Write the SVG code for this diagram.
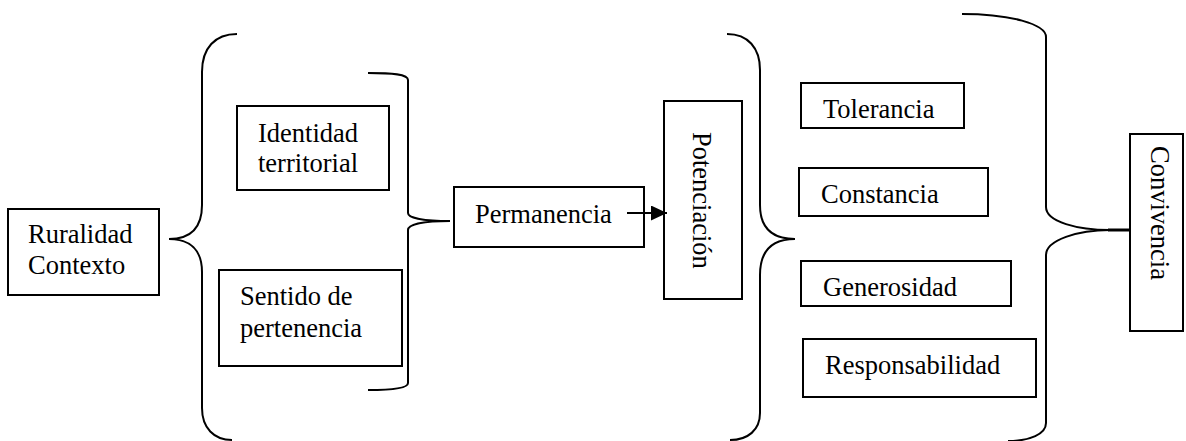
<svg xmlns="http://www.w3.org/2000/svg" width="1186" height="441" viewBox="0 0 1186 441">
<style>
.box{fill:#fff;stroke:#000;stroke-width:2}
.br{fill:none;stroke:#000;stroke-width:2}
text{font-family:"Liberation Serif","Times New Roman",serif;font-size:26.5px;fill:#000}
</style>
<defs>
<marker id="ah" markerWidth="16" markerHeight="15" refX="16" refY="7.5" orient="auto" markerUnits="userSpaceOnUse">
<path d="M0,0 L16,7.5 L0,15 Z" fill="#000"/>
</marker>
</defs>
<rect width="1186" height="441" fill="#fff"/>
<g id="ruralidad">
<rect class="box" x="8" y="209" width="151" height="86"/>
<text x="28" y="243">Ruralidad</text>
<text x="28" y="274">Contexto</text>
</g>
<g id="identidad">
<rect class="box" x="237" y="106" width="152" height="84"/>
<text x="258" y="142">Identidad</text>
<text x="258" y="172">territorial</text>
</g>
<g id="sentido">
<rect class="box" x="219" y="270" width="183" height="96"/>
<text x="240" y="305">Sentido de</text>
<text x="240" y="337">pertenencia</text>
</g>
<g id="permanencia">
<rect class="box" x="454" y="187" width="190" height="60"/>
<text x="475" y="223">Permanencia</text>
</g>
<g id="potenciacion">
<rect class="box" x="664" y="101" width="78" height="198"/>
<text x="693" y="132" transform="rotate(90 693 132)">Potenciación</text>
</g>
<g id="tolerancia">
<rect class="box" x="801" y="83" width="163" height="45"/>
<text x="823" y="118">Tolerancia</text>
</g>
<g id="constancia">
<rect class="box" x="799" y="168" width="189" height="48"/>
<text x="821" y="203">Constancia</text>
</g>
<g id="generosidad">
<rect class="box" x="801" y="261" width="210" height="45"/>
<text x="823" y="296">Generosidad</text>
</g>
<g id="responsabilidad">
<rect class="box" x="803" y="339" width="233" height="58"/>
<text x="825" y="374">Responsabilidad</text>
</g>
<g id="convivencia">
<rect class="box" x="1130" y="134" width="53" height="197"/>
<text x="1151" y="146" transform="rotate(90 1151 146)">Convivencia</text>
</g>
<g id="connectors">
<path class="br" d="M237,34 C215,34 202,48 202,72 L202,205 C202,228 190,239 169,239 C190,239 202,250 202,272 L202,408 C202,428 214,440 232,440"/>
<path class="br" d="M368,73 C392,73 408,74 408,80 L408,213 C408,218 424,221 450,221 C424,221 408,224 408,230 L408,383 C408,388 392,390 368,390"/>
<path class="br" d="M727,34 C748,34 760,48 760,70 L760,205 C760,228 772,239 795,239 C772,239 760,250 760,275 L760,413 C760,430 748,440 730,440"/>
<path class="br" d="M962,14 C1010,14 1046,24 1046,37 L1046,207 C1046,222 1078,230 1110,230 C1078,230 1046,240 1046,255 L1046,423 C1046,434 1030,441 1008,441"/>
<line x1="1108" y1="230" x2="1130" y2="230" stroke="#000" stroke-width="3"/>
<line x1="627" y1="213" x2="667" y2="213" stroke="#000" stroke-width="2" marker-end="url(#ah)"/>
</g>
</svg>
